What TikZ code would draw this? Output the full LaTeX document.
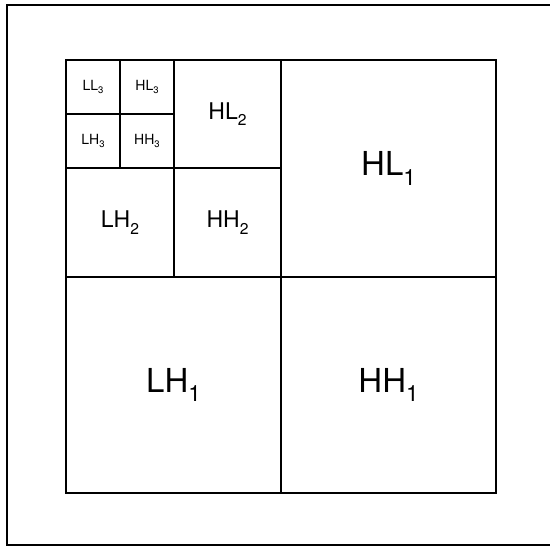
\documentclass[tikz,border=0pt]{standalone}
\usepackage{fontspec}
\setmainfont{TeX Gyre Heros}
\newcommand{\sbs}[1]{\raisebox{-0.28em}{\scalebox{0.68}{#1}}}
\newcommand{\upbig}[1]{\raisebox{5pt}{#1}}
\begin{document}
\begin{tikzpicture}[x=1pt,y=-1pt,
  cell/.style={draw, line width=1.5pt, rectangle, inner sep=0pt, outer sep=0pt},
  lone/.style={cell, font=\fontsize{33}{33}\selectfont},
  ltwo/.style={cell, font=\fontsize{23}{23}\selectfont},
  lthree/.style={cell, font=\fontsize{14}{14}\selectfont},
  frameline/.style={line width=1.3pt}]
\fill[white] (0,0) rectangle (550,547);
\useasboundingbox (0,0) rectangle (550,547);
% outer frame
\coordinate (ftl) at (7,5);
\coordinate (ftr) at (551,5);
\coordinate (fbl) at (7,545);
\coordinate (fbr) at (551,545);
\draw[frameline] (ftr) -- (ftl) -- (fbl) -- (fbr);
% level 1
\node[lone, minimum width=215pt, minimum height=217pt] (HL1) at (388.5,168.5) {\upbig{HL\sbs{1}}};
\node[lone, minimum width=215pt, minimum height=216pt] (LH1) at (173.5,385) {\upbig{LH\sbs{1}}};
\node[lone, minimum width=215pt, minimum height=216pt] (HH1) at (388.5,385) {\upbig{HH\sbs{1}}};
% level 2
\node[ltwo, minimum width=107pt, minimum height=108pt] (HL2) at (227.5,114) {HL\sbs{2}};
\node[ltwo, minimum width=108pt, minimum height=109pt] (LH2) at (120,222.5) {LH\sbs{2}};
\node[ltwo, minimum width=107pt, minimum height=109pt] (HH2) at (227.5,222.5) {HH\sbs{2}};
% level 3
\node[lthree, minimum width=54pt, minimum height=54pt] (LL3) at (93,87) {LL\sbs{3}};
\node[lthree, minimum width=54pt, minimum height=54pt] (HL3) at (147,87) {HL\sbs{3}};
\node[lthree, minimum width=54pt, minimum height=54pt] (LH3) at (93,141) {LH\sbs{3}};
\node[lthree, minimum width=54pt, minimum height=54pt] (HH3) at (147,141) {HH\sbs{3}};
\end{tikzpicture}
\end{document}
